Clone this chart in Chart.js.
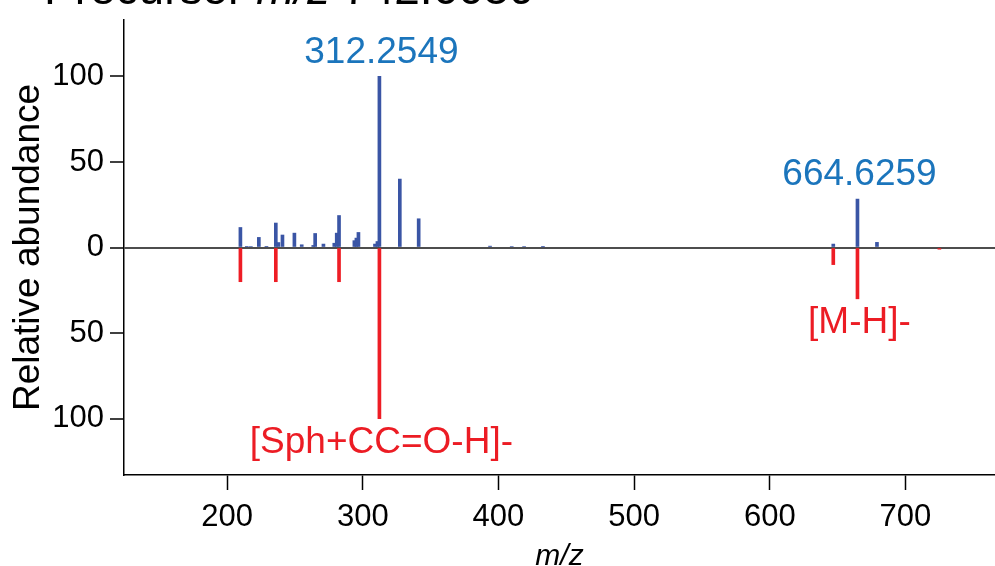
<!DOCTYPE html>
<html>
<head>
<meta charset="utf-8">
<script src="https://cdn.jsdelivr.net/npm/chart.js@4.4.1/dist/chart.umd.min.js"></script>
<style>
  html, body { margin: 0; padding: 0; background: #fff; }
  canvas { display: block; }
</style>
</head>
<body>
<canvas id="spectrum" width="995" height="566"></canvas>
<script>
// measured spectrum (top, blue) and mirrored reference (bottom, red)
const sampleMz = [209.8, 214.5, 217.5, 223.4, 229.0, 235.9, 237.8, 240.8, 249.6, 255.0,
  263.5, 264.9, 271.0, 279.0, 280.8, 282.5, 293.8, 295.3, 296.8, 309.0, 310.8, 312.2549,
  327.3, 341.2, 393.8, 409.8, 418.9, 432.8, 646.8, 664.6259, 679.0];
const sampleAbundance = [11.7, 0.5, 0.6, 5.9, 0.7, 14.3, 2.9, 7.3, 8.4, 1.6,
  1.2, 8.2, 2.0, 2.5, 8.4, 18.7, 4.0, 5.5, 8.8, 2.0, 3.5, 100,
  40.0, 16.8, 0.8, 0.6, 0.6, 0.4, 2.0, 28.3, 3.0];

const refMz = [209.8, 235.9, 282.5, 312.2549, 646.8, 664.6259, 725.0];
const refAbundance = [-20, -20, -20, -100, -10, -30, -1];

const xTicks = [200, 300, 400, 500, 600, 700];
const yTicks = [-100, -50, 0, 50, 100];

const topLabels = ['312.2549', '664.6259'];
const topLabelMz = [312.2549, 664.6259];
const bottomLabels = ['[Sph+CC=O-H]-', '[M-H]-'];
const bottomLabelMz = [312.2549, 664.6259];

const FONT = "'Liberation Sans', Arial, sans-serif";

const findValue = (mzs, vals, mz) => vals[mzs.indexOf(mz)];

const annotate = {
  id: 'annotate',
  afterDatasetsDraw(chart) {
    const { ctx, scales: { x, y } } = chart;
    ctx.save();
    ctx.font = '37px ' + FONT;
    ctx.textAlign = 'center';
    ctx.textBaseline = 'middle';
    ctx.fillStyle = '#1b75bc';
    topLabels.forEach((t, i) => {
      const v = findValue(sampleMz, sampleAbundance, topLabelMz[i]);
      ctx.fillText(t, x.getPixelForValue(topLabelMz[i]) + 2, y.getPixelForValue(v) - 24);
    });
    ctx.fillStyle = '#ec1c24';
    bottomLabels.forEach((t, i) => {
      const v = findValue(refMz, refAbundance, bottomLabelMz[i]);
      ctx.fillText(t, x.getPixelForValue(bottomLabelMz[i]) + 2, y.getPixelForValue(v) + 24);
    });

    // header, mostly cropped off the top of the figure
    ctx.fillStyle = '#000';
    ctx.textAlign = 'left';
    ctx.textBaseline = 'alphabetic';
    let px = 44;
    const parts = [['Precursor ', ''], ['m/z', 'italic '], [' 742.6059', '']];
    parts.forEach(([s, style]) => {
      ctx.font = style + '46px ' + FONT;
      ctx.fillText(s, px, 4);
      px += ctx.measureText(s).width;
    });
    ctx.restore();
  }
};

new Chart(document.getElementById('spectrum'), {
  type: 'bar',
  data: {
    datasets: [
      {
        label: 'sample',
        data: sampleMz.map((mz, i) => ({ x: mz, y: sampleAbundance[i] })),
        backgroundColor: '#3a55a5',
        barThickness: 3
      },
      {
        label: 'reference',
        data: refMz.map((mz, i) => ({ x: mz, y: refAbundance[i] })),
        backgroundColor: '#ee1d25',
        barThickness: 3
      }
    ]
  },
  options: {
    responsive: false,
    animation: false,
    devicePixelRatio: 1,
    layout: { padding: { top: 20, left: 0, right: 0, bottom: 0 } },
    datasets: { bar: { grouped: false } },
    plugins: { legend: { display: false }, tooltip: { enabled: false } },
    scales: {
      x: {
        type: 'linear',
        offset: false,
        min: 124,
        max: 766,
        afterBuildTicks: s => { s.ticks = xTicks.map(v => ({ value: v })); },
        afterFit: s => { s.height = 91; s.paddingLeft = 0; s.paddingRight = 0; },
        grid: { offset: false, drawOnChartArea: false, tickLength: 15, tickColor: '#000', tickWidth: 1.5 },
        border: { color: '#000', width: 1.5 },
        ticks: { color: '#000', font: { family: FONT, size: 31 }, padding: 9, maxRotation: 0 },
        title: {
          display: true, text: 'm/z', color: '#000', padding: 0,
          font: { family: FONT, size: 30, style: 'italic', lineHeight: 0.6 }
        }
      },
      y: {
        min: -133,
        max: 133,
        afterBuildTicks: s => { s.ticks = yTicks.map(v => ({ value: v })); },
        afterFit: s => { s.width = 124; s.paddingTop = 0; s.paddingBottom = 0; },
        grid: {
          color: c => (c.tick && c.tick.value === 0 ? '#4d4d4d' : 'rgba(0,0,0,0)'),
          lineWidth: 2,
          tickLength: 14,
          tickColor: '#000',
          tickWidth: 1.5
        },
        border: { color: '#000', width: 1.5 },
        ticks: { color: '#000', font: { family: FONT, size: 31 }, padding: 6, callback: v => Math.abs(v) },
        title: {
          display: true, text: 'Relative abundance', color: '#000',
          padding: { top: 7, bottom: 0 },
          font: { family: FONT, size: 37 }
        }
      }
    }
  },
  plugins: [annotate]
});
</script>
</body>
</html>
